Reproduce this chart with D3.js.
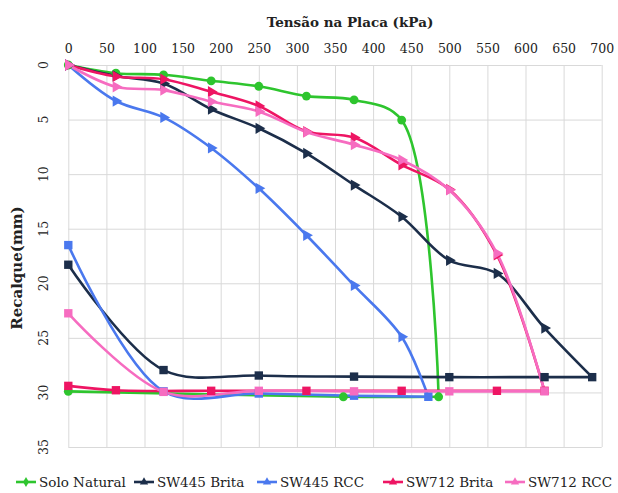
<!DOCTYPE html>
<html>
<head>
<meta charset="utf-8">
<script src="https://cdn.jsdelivr.net/npm/d3@7"></script>
<style>
  body { margin: 0; background: #fff; }
  svg text { font-family: "DejaVu Serif", "Liberation Serif", "Noto Serif", serif; fill: #222; }
</style>
</head>
<body>
<div id="chart"></div>
<script>
// tick labels
var xTicks = [0,50,100,150,200,250,300,350,400,450,500,550,600,650,700]
var yTicks = [0,5,10,15,20,25,30,35]

var seriesNames = ["Solo Natural","SW445 Brita","SW445 RCC","SW712 Brita","SW712 RCC"]

// Solo Natural
var soloLoadX = [0,62.5,125,187.5,250,312.5,375,437.5,486]
var soloLoadY = [0,0.75,0.9,1.45,1.95,2.85,3.2,5.05,30.4]
var soloUnloadX = [361,0]
var soloUnloadY = [30.4,29.9]

// SW445 Brita
var b445LoadX = [0,62.5,125,187.5,250,312.5,375,437.5,500,562.5,625,687.5]
var b445LoadY = [0,1.0,1.7,4.05,5.8,8.1,11.0,13.9,17.9,19.1,24.1,28.6]
var b445UnloadX = [625,500,375,250,125,0]
var b445UnloadY = [28.6,28.6,28.55,28.45,27.95,18.3]

// SW445 RCC
var r445LoadX = [0,62.5,125,187.5,250,312.5,375,437.5,472.5]
var r445LoadY = [0,3.3,4.8,7.6,11.3,15.6,20.2,24.9,30.4]
var r445UnloadX = [375,250,125,0]
var r445UnloadY = [30.3,30.1,29.9,16.5]

// SW712 Brita
var b712LoadX = [0,62.5,125,187.5,250,312.5,375,437.5,500,562.5,625]
var b712LoadY = [0,1.05,1.3,2.45,3.75,6.1,6.65,9.15,11.4,17.4,29.85]
var b712UnloadX = [562.5,437.5,312.5,187.5,62.5,0]
var b712UnloadY = [29.85,29.85,29.85,29.85,29.8,29.4]

// SW712 RCC
var r712LoadX = [0,62.5,125,187.5,250,312.5,375,437.5,500,562.5,625]
var r712LoadY = [0,2.0,2.3,3.35,4.25,6.15,7.3,8.7,11.45,17.25,29.9]
var r712UnloadX = [500,375,250,125,0]
var r712UnloadY = [29.9,29.9,29.85,29.95,22.75]

var colors = ["#2ec52e","#1c2e4a","#4a78ee","#ee1563","#f66cc0"]

function pts(xs, ys){ return xs.map((x,i)=>[x, ys[i]]) }

var series = [
  {name: seriesNames[0], color: colors[0], load: pts(soloLoadX, soloLoadY), unload: pts(soloUnloadX, soloUnloadY), sym: d3.symbolCircle},
  {name: seriesNames[1], color: colors[1], load: pts(b445LoadX, b445LoadY), unload: pts(b445UnloadX, b445UnloadY), sym: d3.symbolTriangle},
  {name: seriesNames[2], color: colors[2], load: pts(r445LoadX, r445LoadY), unload: pts(r445UnloadX, r445UnloadY), sym: d3.symbolTriangle},
  {name: seriesNames[3], color: colors[3], load: pts(b712LoadX, b712LoadY), unload: pts(b712UnloadX, b712UnloadY), sym: d3.symbolTriangle},
  {name: seriesNames[4], color: colors[4], load: pts(r712LoadX, r712LoadY), unload: pts(r712UnloadX, r712UnloadY), sym: d3.symbolTriangle}
]

var w = 618, h = 493
var plot = {left: 68.3, right: 601.7, top: 65, bottom: 447}

var svg = d3.select("#chart").append("svg")
    .attr("width", w)
    .attr("height", h)

var xScale = d3.scaleLinear().domain([0,700]).range([plot.left, plot.right])
var yScale = d3.scaleLinear().domain([0,35]).range([plot.top, plot.bottom])

// grid + top axis
var xAxis = d3.axisTop(xScale).tickValues(xTicks)
    .tickSize(-(plot.bottom - plot.top)).tickPadding(12)
svg.append("g")
    .attr("class", "xAxis")
    .attr("transform", `translate(0, ${plot.top})`)
    .call(xAxis)
    .attr("font-family", null)
    .call(g => g.select(".domain").remove())
    .call(g => g.selectAll("line").attr("stroke", "#d9d9d9"))
    .call(g => g.selectAll("text").style("font-size", "12.5px").attr("fill", "#333"))

var yAxis = d3.axisLeft(yScale).tickValues(yTicks)
    .tickSize(-(plot.right - plot.left)).tickFormat("")
svg.append("g")
    .attr("class", "yAxis")
    .attr("transform", `translate(${plot.left}, 0)`)
    .call(yAxis)
    .call(g => g.select(".domain").remove())
    .call(g => g.selectAll("line").attr("stroke", "#d9d9d9"))

// rotated y tick labels
svg.append("g").selectAll("text")
    .data(yTicks)
  .enter().append("text")
    .attr("transform", d => `translate(43.5, ${yScale(d)}) rotate(-90)`)
    .attr("text-anchor", "middle")
    .attr("dominant-baseline", "central")
    .style("font-size", "12.5px")
    .attr("fill", "#333")
    .text(d => d)

// titles
svg.append("text")
    .attr("x", 350).attr("y", 22)
    .attr("text-anchor", "middle")
    .attr("dominant-baseline", "central")
    .style("font-size", "13.5px")
    .style("font-weight", "bold")
    .text("Tensão na Placa (kPa)")

svg.append("text")
    .attr("transform", "translate(17, 268) rotate(-90)")
    .attr("text-anchor", "middle")
    .attr("dominant-baseline", "central")
    .style("font-size", "15px")
    .style("font-weight", "bold")
    .text("Recalque(mm)")

// lines: loading and unloading branches smoothed separately
var line = d3.line()
    .x(d => xScale(d[0]))
    .y(d => yScale(d[1]))
    .curve(d3.curveCatmullRom.alpha(0.5))

var lineG = svg.append("g")
series.forEach(s => {
  var branches = [s.load, [s.load[s.load.length - 1]].concat(s.unload)]
  branches.forEach(b => {
    lineG.append("path")
        .datum(b)
        .attr("fill", "none")
        .attr("stroke", s.color)
        .attr("stroke-width", 2.6)
        .attr("stroke-linejoin", "round")
        .attr("d", line)
  })
})

// markers: triangles while loading, squares from the peak back down
var markG = svg.append("g")
series.forEach(s => {
  var isCircle = s.sym === d3.symbolCircle
  var loadSym = d3.symbol().type(s.sym).size(isCircle ? 62 : 55)
  var unloadSym = d3.symbol().type(isCircle ? d3.symbolCircle : d3.symbolSquare)
      .size(isCircle ? 62 : 70)
  markG.selectAll(null)
      .data(s.load.slice(0, -1))
    .enter().append("path")
      .attr("transform", d => `translate(${xScale(d[0])}, ${yScale(d[1])}) rotate(90)`)
      .attr("d", loadSym)
      .attr("fill", s.color)
  markG.selectAll(null)
      .data(s.load.slice(-1).concat(s.unload))
    .enter().append("path")
      .attr("transform", d => `translate(${xScale(d[0])}, ${yScale(d[1])})`)
      .attr("d", unloadSym)
      .attr("fill", s.color)
})

// legend
var legendX = [16, 134, 257, 383, 505]
var legend = svg.append("g")
series.forEach((s, i) => {
  var g = legend.append("g").attr("transform", `translate(${legendX[i]}, 482)`)
  g.append("line")
      .attr("x1", 0).attr("x2", 20)
      .attr("stroke", s.color).attr("stroke-width", 2.6)
  g.append("path")
      .attr("transform", "translate(10,0)")
      .attr("d", d3.symbol().type(i == 0 ? d3.symbolDiamond : d3.symbolTriangle).size(30))
      .attr("fill", s.color)
  g.append("text")
      .attr("x", 23)
      .attr("dominant-baseline", "central")
      .style("font-size", "13.5px")
      .text(s.name)
})
</script>
</body>
</html>
